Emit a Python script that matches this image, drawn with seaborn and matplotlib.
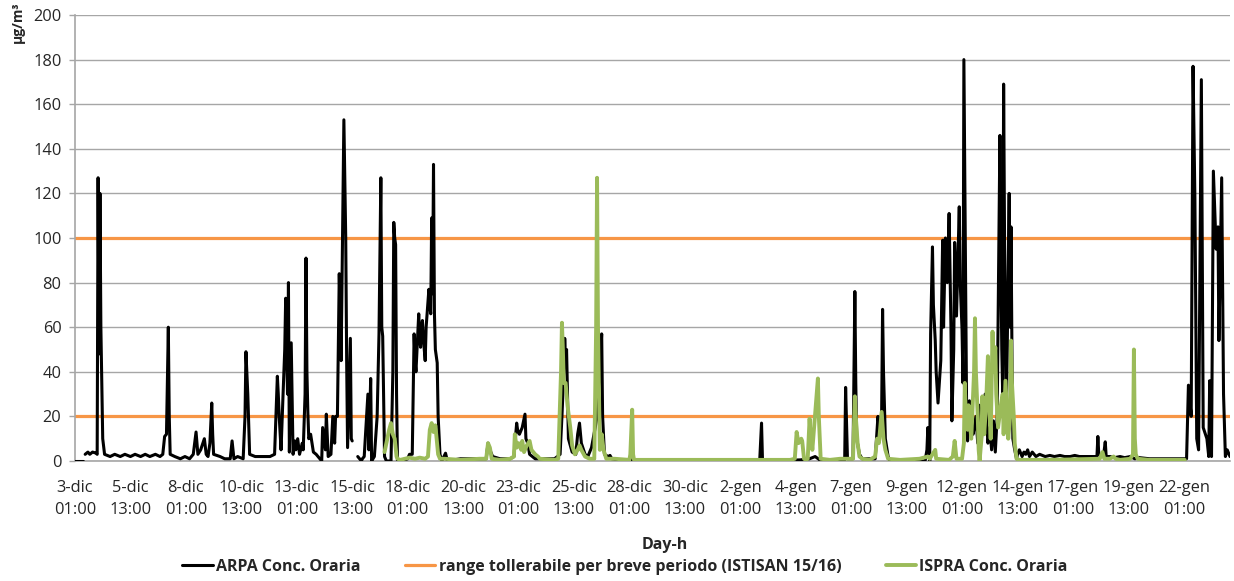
import numpy as np
import pandas as pd
import matplotlib
matplotlib.use("Agg")
import matplotlib.pyplot as plt
from matplotlib.lines import Line2D
import seaborn as sns

nan = np.nan

# ARPA hourly concentration (hour from 3-dic 01:00, µg/m3), NaN = missing data
arpa = [(0,0),(9,0),(10,nan),(11,3),(14,4),(16,3),(19,4),(23,3.5),(24,3),(25,127),(26,48),(27,120),(28,60),(30,10),(32,3),
        (38,2),(43,3),(49,2),(54,3),(60,2),(65,3),(71,2),(76,3),(81,2),(87,3),(92,2),(95,3),
        (97,11),(99,12),(101,60),(102,20),(103,3),(108,2),(114,1),(119,2),(124,1),(128,3),(131,13),(133,3),(136,5),(140,10),
        (142,3),(144,2),(146,8),(148,26),(149,12),(150,3),(157,2),(162,1),(168,1),(170,9),(172,1),(176,2),(182,1),(184,20),
        (185,49),(187,30),(189,3),(195,2),(200,2),(206,2),(211,2),(216,3),
        (219,38),(220,30),(221,20),(223,5),(225,28),(227,50),(228,73),(230,30),(231,80),(232,4),(234,53),(236,3),(238,9),
        (239,5),(241,10),(243,3),(246,8),(247,5),(249,30),(250,91),(251,40),(252,22),(253,10),(255,12),(258,4),(261,3),
        (263,2),(265,1),(267,0),(268,15),(271,5),(272,21),(274,2),(277,3),(279,20),(281,8),(282,20),(284,20),(286,84),
        (288,45),(291,153),(293,100),(294,45),(295,6),(298,55),(299,10),(300,9),(301,nan),
        (306,2),(308,1),(310,0),(311,1),(313,2),(317,30),(318,5),(320,37),(321,0),(324,2),(327,20),(329,57),(331,127),
        (332,60),(333,56),(335,2),(337,0),(342,0),(344,40),(345,107),(346,100),(347,97),(348,30),(349,0),(354,0),(360,1),
        (362,3),(365,3),(367,57),(368,45),(369,40),(371,58),(372,66),(373,55),(374,51),(375,60),(376,63),(377,55),(379,45),
        (380,60),(383,77),(384,70),(385,66),(386,109),(387,75),(388,133),(389,66),(390,50),(392,44),(393,20),(395,3),
        (397,0),(401,3.5),(403,0),
        (417,1),(438,1),(445,1),(447,8),(449,5),(452,2),(460,1),(471,1),(475,2),(478,17),(479,14),(481,12),(484,15),
        (487,21),(488,10),(490,8),(492,3),(498,1),(503,1),(519,1),(525,3),(527,20),(529,40),(530,55),(531,45),(532,50),
        (533,30),(534,10),(538,4),(542,3),(544,12),(546,17),(548,8),(552,3),(555,2),(559,6),(563,15),(565,20),(568,40),
        (570,57),(571,20),(573,3),(577,2),(579,2.5),(581,1),
        (590,0.5),(676,0.5),(741,0),(743,17),(744,1),(745,0),(785,0.5),(795,1),(801,2),(806,0.5),(833,0.5),(834,33),
        (836,1),(842,1),(844,76),(845,35),(846,10),(849,3),(852,1),(866,1),(869,20),(871,12),(873,22),(874,68),(875,40),
        (877,10),(880,2),(882,0),(920,0),(922,5),(923,15),(925,0),(926,57),(928,96),(929,70),(931,54),(932,40),(934,26),
        (937,45),(939,99),(940,60),(942,100),(944,80),(946,111),(948,60),(949,18),(951,50),(952,98),(953,85),(954,65),
        (957,114),(958,80),(960,59),(961,35),(962,180),(965,20),(966,9),(968,27),(970,15),(972,12),(975,20),(977,8),
        (979,25),(981,10),(983,18),(985,30),(988,8),(990,15),(992,5),(994,18),(996,4),(998,20),(1001,146),(1002,90),
        (1003,50),(1004,30),(1005,169),(1006,100),(1008,20),(1011,120),(1012,60),(1013,105),(1014,50),(1015,10),
        (1017,5),(1019,1),(1020,3),(1022,5),(1025,2),(1027,4),(1029,3),(1031,5),(1033,2),(1036,4),(1040,2),(1044,3),
        (1050,2),(1055,2.5),(1060,2),(1066,2.5),(1071,2),(1077,2),(1082,2.5),(1087,2),(1093,2),(1098,2),(1104,2),
        (1106,2),(1107,11),(1108,3),(1111,2),(1113,2),(1115,8.6),(1116,2),(1120,2),(1125,1.5),(1131,2),(1136,1.5),
        (1142,2),(1147,1),(1152,1.5),(1163,1),(1174,1),(1185,1),(1196,1),(1203,1),(1205,34),(1208,20),(1210,177),
        (1212,118),(1214,10),(1216,5),(1219,171),(1221,15),(1225,10),(1227,2),(1228,36),(1230,2),(1232,130),(1235,95),
        (1237,105),(1238,54),(1241,127),(1243,30),(1245,2),(1247,5),(1250,2)]

# ISPRA hourly concentration
ispra = [(335,4),(338,10),(340,14),(342,17),(344,12),(346,10),(348,2),(349,1),(352,0.5),(357,1),(362,1.5),(368,1),
         (373,1.5),(379,1),(382,2),(384,14),(386,17),(388,13),(390,16),(393,3),(395,1),(400,1),(417,0.5),(438,1),
         (445,1),(447,8),(449,6),(451,1),(460,0.5),(471,1),(475,2),(476,12),(478,6),(480,8),(483,5),(484,9),(486,4),
         (489,7),(492,9),(494,5),(498,3),(501,2),(503,1),(519,0.5),(523,1),(526,40),(527,62),(528,50),(529,35),
         (531,35),(533,25),(536,15),(538,7),(541,3),(544,5),(546,7),(548,5),(552,2),(557,1),(562,1),(564,60),
         (565,127),(566,60),(568,5),(570,12),(572,5),(575,1),(584,1),(600,0.5),(601,3),(603,23),(604,3),(605,0.5),
         (622,0.5),(676,0.5),(730,0.5),(774,0.5),(779,1),(781,13),(783,8),(786,10),(787,9),(789,1),(791,0.5),(793,1),
         (795,19),(796,12),(797,10),(798,5),(804,37),(805,20),(807,1),(817,0.5),(828,1),(836,1),(842,1),(844,29),
         (845,20),(847,8),(849,2),(852,1),(860,0.5),(866,2),(868,10),(870,8),(873,22),(875,10),(877,5),(880,1),
         (893,0.5),(914,1),(923,2),(925,1),(928,3),(931,5),(932,1),(946,0.5),(950,2),(952,9),(954,1),(960,1),(962,8),
         (963,35),(964,20),(966,14),(967,25),(968,20),(970,10),(973,40),(974,64),(975,40),(977,20),(978,5),(979,0),
         (981,10),(982,29),(984,12),(986,25),(988,47),(989,30),(991,10),(993,58),(994,40),(996,51),(997,30),(999,15),
         (1002,25),(1004,30),(1005,12),(1007,36),(1010,10),(1012,20),(1013,54),(1014,35),(1016,20),(1017,8),(1019,1),
         (1022,0.5),(1055,0.5),(1109,1),(1112,4),(1114,1),(1120,1),(1124,2),(1126,1),(1131,0.5),(1142,1),(1145,3),
         (1146,50),(1147,10),(1148,3),(1150,1),(1163,0.5),(1185,0.5),(1201,0.5)]

range_limits = [20, 100]

tick_hours = list(range(0, 1201, 60))
tick_labels = ["3-dic\n01:00", "5-dic\n13:00", "8-dic\n01:00", "10-dic\n13:00", "13-dic\n01:00",
               "15-dic\n13:00", "18-dic\n01:00", "20-dic\n13:00", "23-dic\n01:00", "25-dic\n13:00",
               "28-dic\n01:00", "30-dic\n13:00", "2-gen\n01:00", "4-gen\n13:00", "7-gen\n01:00",
               "9-gen\n13:00", "12-gen\n01:00", "14-gen\n13:00", "17-gen\n01:00", "19-gen\n13:00",
               "22-gen\n01:00"]

BLACK = "#000000"
ORANGE = "#F79646"
GREEN = "#9BBB59"
FS_TICK = 11.8
FS_TXT = 11.5

sns.set_theme(style="white")
plt.rcParams['font.family'] = ['Open Sans', 'DejaVu Sans']

def to_frame(pairs):
    df = pd.DataFrame(pairs, columns=["h", "v"])
    df["seg"] = df["v"].isna().cumsum()
    return df.dropna()

df_arpa = to_frame(arpa)
df_ispra = to_frame(ispra)

fig = plt.figure(figsize=(12.34, 5.81), dpi=100)
ax = fig.add_axes([75 / 1234, 1 - 461 / 581, 1155 / 1234, 446 / 581])

for lim in range_limits:
    ax.axhline(lim, color=ORANGE, lw=2.3, zorder=2)
sns.lineplot(data=df_arpa, x="h", y="v", units="seg", estimator=None, sort=False,
             color=BLACK, lw=2.2, ax=ax, zorder=3)
sns.lineplot(data=df_ispra, x="h", y="v", units="seg", estimator=None, sort=False,
             color=GREEN, lw=2.8, ax=ax, zorder=4)

ax.set_xlim(0, 1250)
ax.set_ylim(0, 200)
ax.set_yticks(range(0, 201, 20))
ax.yaxis.grid(True, color="#A6A6A6", lw=1)
ax.set_xticks(tick_hours)
ax.set_xticklabels(tick_labels, fontsize=FS_TICK, linespacing=1.45)
ax.tick_params(axis="y", labelsize=FS_TICK, left=True, length=4.3, width=1, color="#A6A6A6", pad=5.5)
ax.tick_params(axis="x", bottom=False, pad=8)
for s in ["top", "right"]:
    ax.spines[s].set_visible(False)
for s in ["left", "bottom"]:
    ax.spines[s].set_color("#A6A6A6")
    ax.spines[s].set_linewidth(1.2)

ax.set_ylabel("")
ax.set_xlabel("Day-h", fontsize=FS_TXT, fontweight="bold")
ax.xaxis.set_label_coords((665 - 75) / 1155, -0.17)
fig.text(18 / 1234, 1 - 22 / 581, "µg/m³", rotation=90, fontsize=10, fontweight="bold",
         ha="center", va="center")

handles = [Line2D([], [], color=BLACK, lw=2.2),
           Line2D([], [], color=ORANGE, lw=2.3),
           Line2D([], [], color=GREEN, lw=2.8)]
labels = ["ARPA Conc. Oraria", "range tollerabile per breve periodo (ISTISAN 15/16)", "ISPRA Conc. Oraria"]
fig.legend(handles, labels, loc="center", bbox_to_anchor=(625 / 1234, 1 - 567 / 581), ncol=3,
           frameon=False, handlelength=1.9, handletextpad=0.2, columnspacing=2.8,
           prop={"size": FS_TXT, "weight": "bold"})

fig.savefig("out.png", dpi=100)
